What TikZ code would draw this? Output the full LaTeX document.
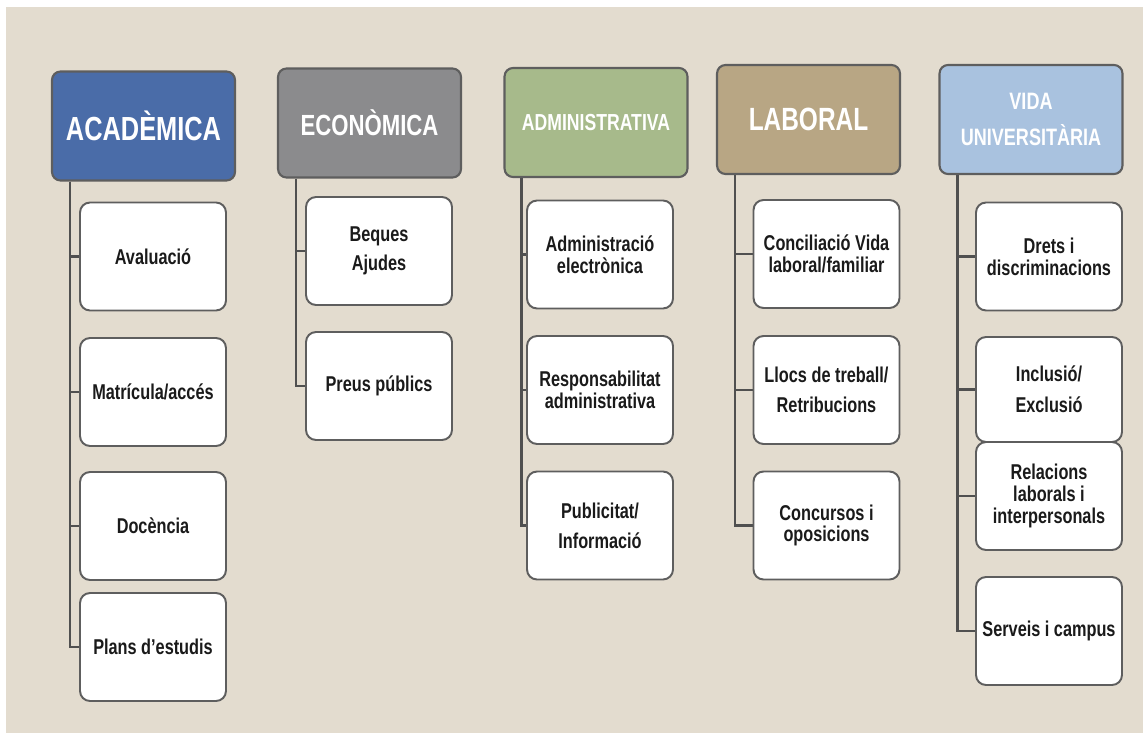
\documentclass[tikz,border=0pt]{standalone}
\usepackage{fontspec}
\setmainfont{Liberation Sans}[FakeStretch=0.76]
\usepackage{tikz}
\usetikzlibrary{positioning}
\pgfdeclarelayer{bg}
\pgfsetlayers{bg,main}

\definecolor{fons}{HTML}{E3DCCF}
\definecolor{blau}{HTML}{4A6CA8}
\definecolor{gris}{HTML}{8B8B8D}
\definecolor{verd}{HTML}{A7BA8B}
\definecolor{terra}{HTML}{B8A684}
\definecolor{celeste}{HTML}{A9C2DF}
\definecolor{vora}{HTML}{5E5E5E}
\definecolor{linia}{HTML}{505050}
\definecolor{negre}{HTML}{1A1A1A}

\tikzset{
	headbox/.style={draw=vora, line width=1.2pt, rounded corners=0.17cm,
		minimum width=3.66cm, minimum height=2.18cm, text=white, align=center},
	itembox/.style={draw=vora, fill=white, line width=1.1pt, rounded corners=0.2cm,
		minimum width=2.92cm, minimum height=2.16cm, align=center, text=negre,
		font=\bfseries\fontsize{12.2}{12.4}\selectfont},
	branca/.style={draw=linia, line width=1.6pt}
}

\begin{document}
\begin{tikzpicture}[x=0.02cm, y=-0.02cm]
		\useasboundingbox (0,0) rectangle (1143,733);
		\begin{pgfonlayer}{bg}
			\fill[fons] (6,7) rectangle (1143,733);
		\end{pgfonlayer}

		%% Headers
		\node[headbox, fill=blau, font=\bfseries\fontsize{19}{20}\selectfont] (acad) at (143.5,126) {ACADÈMICA};
		\node[headbox, fill=gris, font=\bfseries\fontsize{16.6}{20}\selectfont] (econ) at (369.5,123) {ECONÒMICA};
		\node[headbox, fill=verd, font=\bfseries\fontsize{13.2}{20}\selectfont] (admin) at (596,122.5) {ADMINISTRATIVA};
		\node[headbox, fill=terra, font=\bfseries\fontsize{18.3}{20}\selectfont] (labo) at (808.5,119.5) {LABORAL};
		\node[headbox, fill=celeste, font=\bfseries\fontsize{13.5}{20.5}\selectfont] (vida) at (1031,119.5) {VIDA\\UNIVERSITÀRIA};

		% Acadèmica
		\node[itembox] (acad1) at (153,256.5) {Avaluació};
		\node[itembox] (acad2) at (153,392) {Matrícula/accés};
		\node[itembox] (acad3) at (153,526) {Docència};
		\node[itembox] (acad4) at (153,647) {Plans d’estudis};

		% Econòmica
		\node[itembox] (econ1) at (379,251) {Beques\\[4.5pt]Ajudes};
		\node[itembox] (econ2) at (379,386) {Preus públics};

		% Administrativa
		\node[itembox] (admin1) at (600,254.5) {Administració\\electrònica};
		\node[itembox] (admin2) at (600,390) {Responsabilitat\\administrativa};
		\node[itembox] (admin3) at (600,525.5) {Publicitat/\\[4.5pt]Informació};

		% Laboral
		\node[itembox] (labo1) at (826.5,254) {Conciliació Vida\\laboral/familiar};
		\node[itembox] (labo2) at (826.5,390) {Llocs de treball/\\[4.5pt]Retribucions};
		\node[itembox] (labo3) at (826.5,525.5) {Concursos i\\oposicions};

		% Vida universitària
		\node[itembox] (vida1) at (1049,256.5) {Drets i\\discriminacions};
		\node[itembox, minimum height=2.1cm] (vida2) at (1049,389.5) {Inclusió/\\[5pt]Exclusió};
		\node[itembox] (vida3) at (1049,496) {Relacions\\laborals i\\interpersonals};
		\node[itembox] (vida4) at (1049,631) {Serveis i campus};

		%% Branches
		\begin{pgfonlayer}{bg}
			\coordinate (acadT) at ([xshift=0.38cm]acad.south west);
			\coordinate (econT) at ([xshift=0.38cm]econ.south west);
			\coordinate (adminT) at ([xshift=0.36cm]admin.south west);
			\coordinate (laboT) at ([xshift=0.38cm]labo.south west);
			\coordinate (vidaT) at ([xshift=0.38cm]vida.south west);
			\foreach \n in {1,...,4} \draw[branca] (acadT) |- (acad\n.west);
			\foreach \n in {1,2} \draw[branca] (econT) |- (econ\n.west);
			\foreach \n in {1,2,3} \draw[branca] (adminT) |- (admin\n.west);
			\foreach \n in {1,2,3} \draw[branca] (laboT) |- (labo\n.west);
			\foreach \n in {1,...,4} \draw[branca] (vidaT) |- (vida\n.west);
		\end{pgfonlayer}
	\end{tikzpicture}
\end{document}
